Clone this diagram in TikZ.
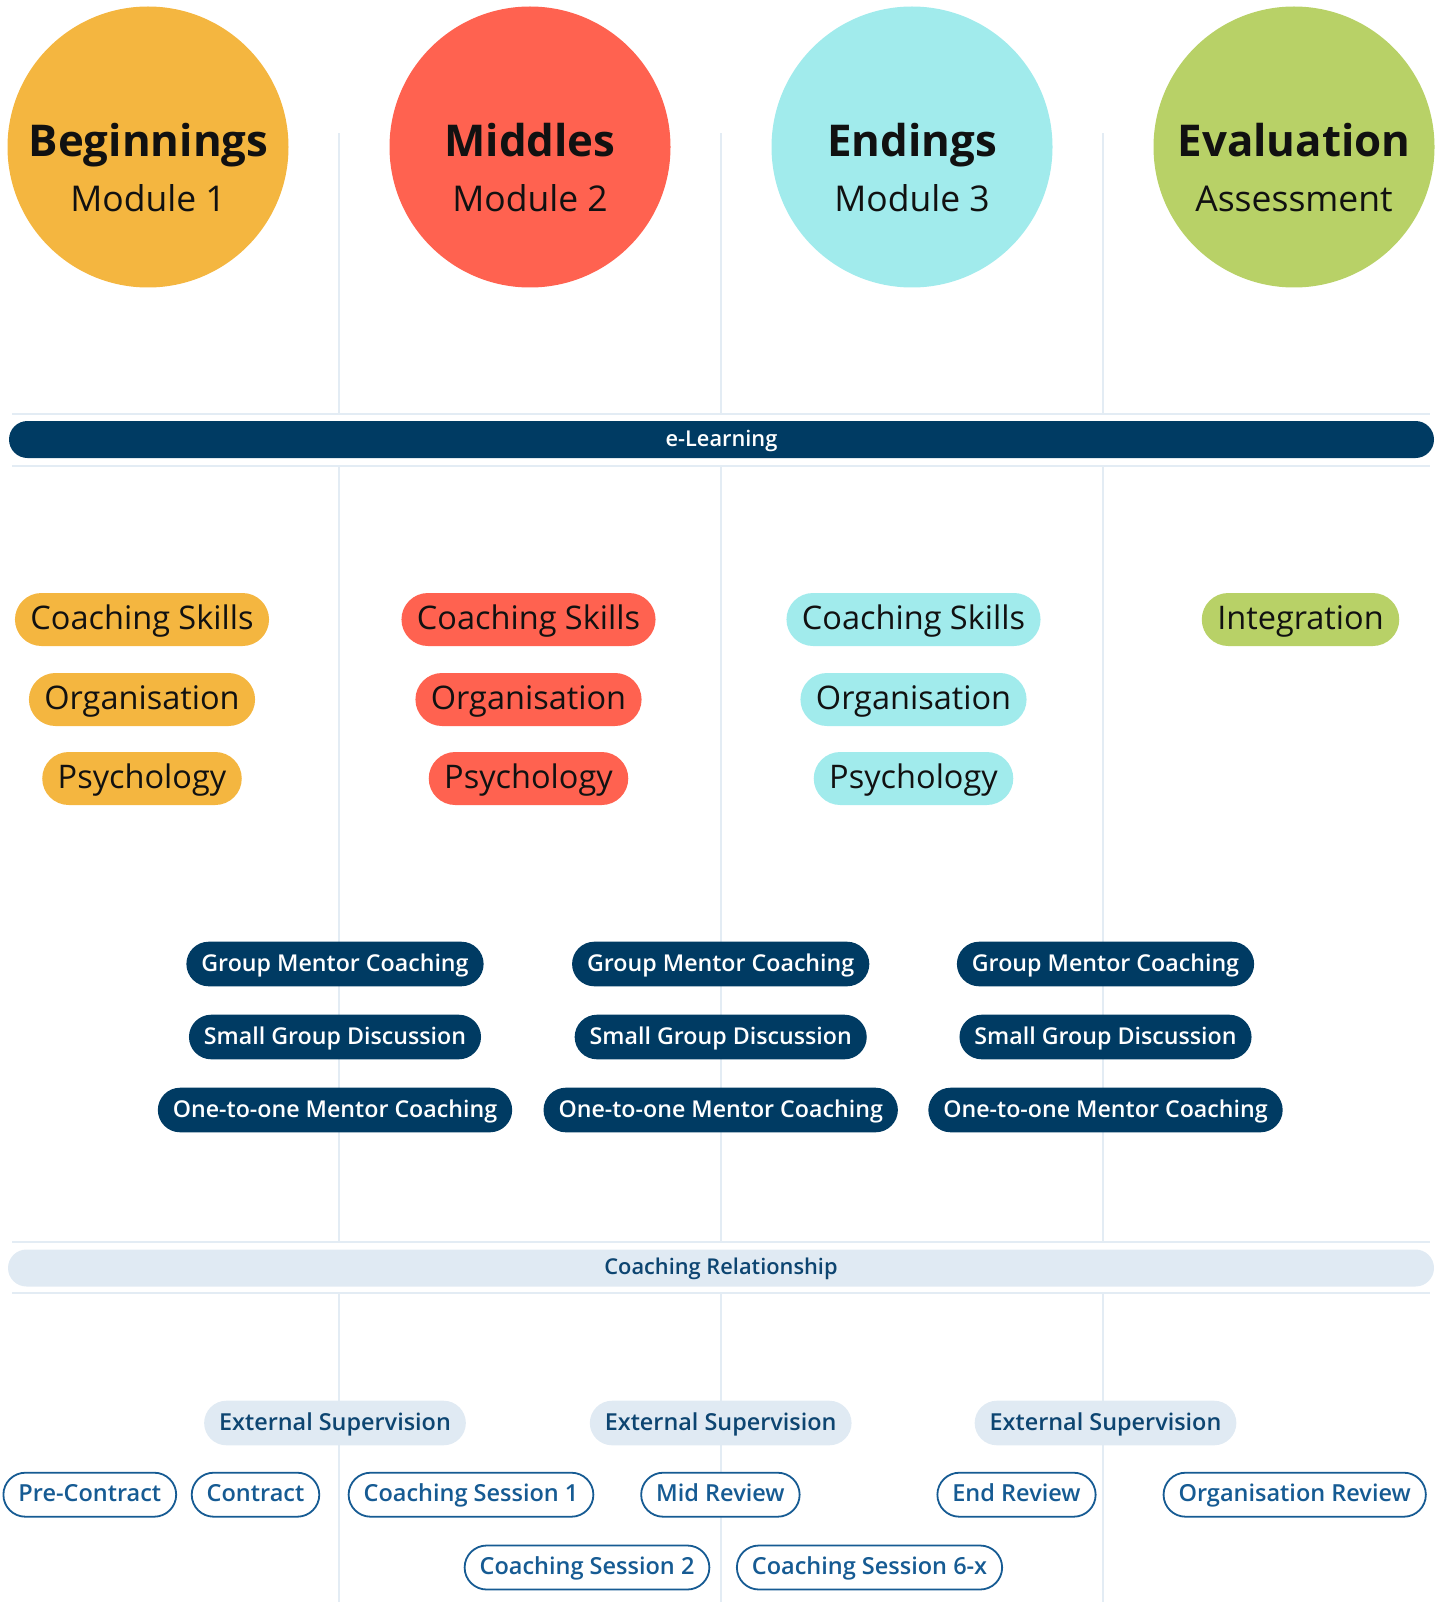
\documentclass[tikz,border=0pt]{standalone}
\usepackage{fontspec}
\setmainfont{Open Sans}
\IfFontExistsTF{Open Sans SemiBold}{\newfontfamily\semifont{Open Sans SemiBold}}{%
  \IfFontExistsTF{Open Sans Semibold}{\newfontfamily\semifont{Open Sans Semibold}}{%
    \newfontfamily\semifont{Open Sans}[FakeBold=0.3]}}
\definecolor{cyel}{HTML}{F4B640}
\definecolor{cred}{HTML}{FF6250}
\definecolor{ccyan}{HTML}{A1EBEC}
\definecolor{cgreen}{HTML}{B8D167}
\definecolor{cnavy}{HTML}{003B63}
\definecolor{clight}{HTML}{E0EAF3}
\definecolor{cdiv}{HTML}{E3ECF4}
\definecolor{cout}{HTML}{165B93}
\definecolor{cdark}{HTML}{0D4571}
\definecolor{ctitle}{HTML}{111111}
\begin{document}
\begin{tikzpicture}[x=1pt,y=-1pt,
  circ/.style={circle, fill=#1, minimum size=281pt, inner sep=0pt},
  titletext/.style={anchor=base, text=ctitle, font=\fontsize{43.8}{50}\selectfont\bfseries},
  subtext/.style={anchor=base, text=ctitle, font=\fontsize{35.5}{40}\selectfont},
  topic/.style={fill=#1, text=ctitle, rounded corners=26.5pt, minimum height=53pt,
    inner xsep=15.5pt, inner ysep=0pt, text height=23pt, text depth=3.8pt,
    font=\fontsize{32.5}{38}\selectfont},
  navypill/.style={fill=cnavy, text=white, rounded corners=22.3pt, minimum height=44.6pt,
    inner xsep=15pt, inner ysep=0pt, text height=17pt, text depth=2pt,
    font=\fontsize{23.2}{28}\semifont},
  extpill/.style={fill=clight, text=cdark, rounded corners=22.3pt, minimum height=44.6pt,
    inner xsep=15pt, inner ysep=0pt, text height=16.5pt, text depth=2.5pt,
    font=\fontsize{23.4}{28}\semifont},
  outpill/.style={draw=cout, line width=1.8pt, fill=white, text=cout, rounded corners=22pt,
    minimum height=44pt, inner xsep=15pt, inner ysep=0pt, text height=16.5pt, text depth=2.5pt,
    font=\fontsize{23.5}{28}\semifont},
  bar/.style={rounded corners=18.5pt, minimum height=37pt, inner sep=0pt,
    text height=15.5pt, text depth=2pt, font=\fontsize{21.8}{25}\semifont},
  divider/.style={draw=cdiv, line width=2pt}
]
\useasboundingbox (0,0) rectangle (1448,1602);

% dividers
\foreach \x in {339,720.5,1102.5}{
  \draw[divider] (\x,133) -- (\x,414);
  \draw[divider] (\x,466) -- (\x,1242);
  \draw[divider] (\x,1293) -- (\x,1602);
}
\foreach \y in {414,466,1242,1293}{
  \draw[divider] (12,\y) -- (1430,\y);
}

% circles
\node[circ=cyel] (c1) at (148,147) {};
\node[circ=cred] (c2) at (530,147) {};
\node[circ=ccyan] (c3) at (912,147) {};
\node[circ=cgreen] (c4) at (1294,147) {};
\node[titletext] (t1) at (148.5,157) {Beginnings};
\node[subtext] (s1) at (148,212) {Module 1};
\node[titletext] (t2) at (530,157) {Middles};
\node[subtext] (s2) at (530,212) {Module 2};
\node[titletext] (t3) at (912,157) {Endings};
\node[subtext] (s3) at (912,212) {Module 3};
\node[titletext] (t4) at (1294,157) {Evaluation};
\node[subtext] (s4) at (1294,212) {Assessment};

% bars
\node[bar, fill=cnavy, text=white, minimum width=1425pt] (elearn) at (721.5,439.5) {e-Learning};
\node[bar, fill=clight, text=cdark, minimum width=1426pt] (crel) at (721,1268) {Coaching Relationship};

% topic pills
\node[topic=cyel] (a1) at (142,619.5) {Coaching Skills};
\node[topic=cyel] (a2) at (142,699.5) {Organisation};
\node[topic=cyel] (a3) at (142,778.5) {Psychology};
\node[topic=cred] (b1) at (528.5,619.5) {Coaching Skills};
\node[topic=cred] (b2) at (528.5,699.5) {Organisation};
\node[topic=cred] (b3) at (528.5,778.5) {Psychology};
\node[topic=ccyan] (d1) at (913.5,619.5) {Coaching Skills};
\node[topic=ccyan] (d2) at (913.5,699.5) {Organisation};
\node[topic=ccyan] (d3) at (913.5,778.5) {Psychology};
\node[topic=cgreen] (e1) at (1300.5,619.5) {Integration};

% navy pills
\foreach \x/\n in {335/1,720.7/2,1105.5/3}{
  \node[navypill] (gmc\n) at (\x,964) {Group Mentor Coaching};
  \node[navypill] (sgd\n) at (\x,1037) {Small Group Discussion};
  \node[navypill] (oto\n) at (\x,1110) {One-to-one Mentor Coaching};
  \node[extpill] (ext\n) at (\x,1423) {External Supervision};
}

% outline pills
\node[outpill] (pre) at (89.8,1494.7) {Pre-Contract};
\node[outpill] (con) at (255.5,1494.7) {Contract};
\node[outpill] (cs1) at (471,1494.7) {Coaching Session 1};
\node[outpill] (mid) at (720.4,1494.7) {Mid Review};
\node[outpill] (endr) at (1016.5,1494.7) {End Review};
\node[outpill] (org) at (1294.7,1494.7) {Organisation Review};
\node[outpill] (cs2) at (587,1567.5) {Coaching Session 2};
\node[outpill] (cs6) at (869.5,1567.5) {Coaching Session 6-x};
\end{tikzpicture}
\end{document}
